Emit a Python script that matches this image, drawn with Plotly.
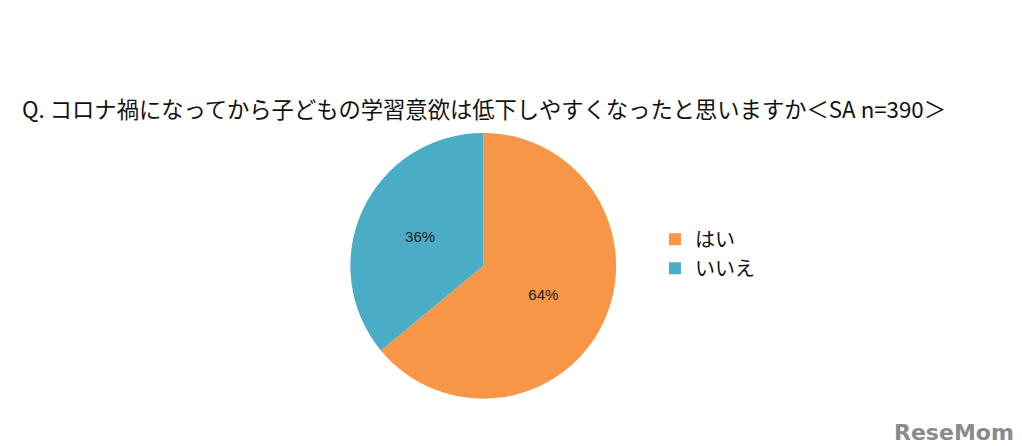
import plotly.graph_objects as go

labels = ["はい", "いいえ"]
values = [64, 36]
colors = ["#F79646", "#4BACC6"]
title_text = "Q. コロナ禍になってから子どもの学習意欲は低下しやすくなったと思いますか＜SA n=390＞"

font = "Noto Sans CJK JP"

fig = go.Figure(go.Pie(
    labels=labels, values=values, sort=False, direction="clockwise", rotation=0,
    marker=dict(colors=colors),
    texttemplate="%{value}%", textposition="inside", insidetextorientation="horizontal",
    textfont=dict(size=15, color="#222", family="Liberation Sans"),
    domain=dict(x=[0.335, 0.595], y=[0.124, 0.72]),
))

fig.add_annotation(text=title_text, x=12 / 1022, y=1 - 100 / 446, xref="paper", yref="paper",
                   xanchor="left", yanchor="middle", showarrow=False,
                   font=dict(size=22.3, color="#111", family=font))
fig.add_annotation(text="<b>ReseMom</b>", x=1008 / 1022, y=1 - 424 / 446, xref="paper", yref="paper",
                   xanchor="right", yanchor="middle", showarrow=False,
                   font=dict(size=22, color="#8a8a8a", family="DejaVu Sans"))

fig.update_layout(
    width=1022, height=446, margin=dict(l=0, r=0, t=0, b=0),
    paper_bgcolor="white", plot_bgcolor="white",
    legend=dict(x=0.633, y=0.525, xanchor="left", yanchor="top",
                font=dict(size=20, family=font, color="#111"), itemwidth=30,
                tracegroupgap=10),
)

fig.write_html("out.html")
